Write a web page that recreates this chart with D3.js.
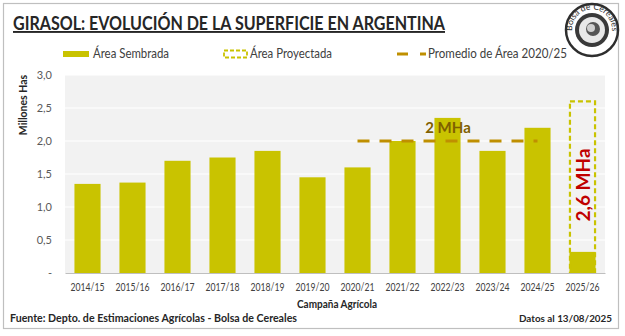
<!DOCTYPE html>
<html><head><meta charset="utf-8">
<script src="https://cdn.jsdelivr.net/npm/d3@7"></script>
<style>body{margin:0;background:#fff}svg{display:block}text{font-family:Lato,"Open Sans",sans-serif}</style>
</head><body><svg id="c" width="625" height="336"></svg>
<script>
const categories=["2014/15","2015/16","2016/17","2017/18","2018/19","2019/20","2020/21","2021/22","2022/23","2023/24","2024/25","2025/26"];
const sembrada=[1.35,1.37,1.70,1.75,1.85,1.45,1.60,2.00,2.35,1.85,2.20,0.32];
const proyectada=[null,null,null,null,null,null,null,null,null,null,null,2.6];
const promedio=2.0;
const promedioDesde="2020/21", promedioHasta="2024/25";
const yTicks=[0,0.5,1,1.5,2,2.5,3];
const yTickLabels=["-","0,5","1,0","1,5","2,0","2,5","3,0"];

const svg=d3.select("#c");
const L=65,R=605,T=75,B=273;
const x=d3.scaleBand().domain(categories).range([L,R]).paddingInner(0.42).paddingOuter(0.21);
const y=d3.scaleLinear().domain([0,3]).range([B,T]);
const barCol="#c9c300", avgCol="#bf8f00", txt="#262626";

// outer border
svg.append("rect").attr("x",3.5).attr("y",3.5).attr("width",615).attr("height",325).attr("fill","none").attr("stroke","#bfbfbf").attr("stroke-width",1.2);
// plot bg
svg.append("rect").attr("x",L).attr("y",T).attr("width",R-L).attr("height",B-T).attr("fill","#f2f2f2");
// grid
svg.append("g").selectAll("line").data(yTicks.slice(1)).join("line")
 .attr("x1",L).attr("x2",R).attr("y1",d=>y(d)).attr("y2",d=>y(d)).attr("stroke","#fff").attr("stroke-width",1.2);

// y axis
const ya=svg.append("g").attr("transform",`translate(${L},0)`).call(d3.axisLeft(y).tickValues(yTicks).tickFormat((d,i)=>yTickLabels[i]).tickSize(0).tickPadding(13));
ya.select(".domain").remove();
ya.selectAll("text").attr("font-size",11).attr("fill","#595959").attr("font-family","Lato");

// x axis
const xa=svg.append("g").attr("transform",`translate(0,${B})`).call(d3.axisBottom(x).tickSize(0).tickPadding(10));
xa.select(".domain").attr("stroke","#bfbfbf");
xa.selectAll("text").attr("font-size",11).attr("fill","#404040").attr("font-family","Lato")
  .attr("textLength",34).attr("lengthAdjust","spacingAndGlyphs");

// bars
svg.append("g").selectAll("rect").data(categories.map((c,i)=>({c,v:sembrada[i]}))).join("rect")
 .attr("x",d=>x(d.c)).attr("width",x.bandwidth()).attr("y",d=>y(d.v)).attr("height",d=>B-y(d.v)).attr("fill",barCol);

// projected
svg.append("g").selectAll("rect").data(categories.map((c,i)=>({c,v:proyectada[i]})).filter(d=>d.v!=null)).join("rect")
 .attr("x",d=>x(d.c)+0.5).attr("width",x.bandwidth()-1).attr("y",d=>y(d.v)).attr("height",d=>B-y(d.v)-1)
 .attr("fill","none").attr("stroke",barCol).attr("stroke-width",2.2).attr("stroke-dasharray","5,3");
categories.forEach((c,i)=>{ if(proyectada[i]!=null){
  const cx=x(c)+x.bandwidth()/2, cy=185;
  svg.append("text").attr("transform",`translate(${cx+7},${cy}) rotate(-90)`).attr("text-anchor","middle")
   .attr("font-size",19).attr("font-weight","bold").attr("fill","#c00000").text(String(proyectada[i]).replace(".",",")+" MHa");
}});

// average line
const x1=x(promedioDesde)+x.bandwidth()/2, x2=x(promedioHasta)+x.bandwidth()/2;
svg.append("line").attr("x1",x1).attr("x2",x2).attr("y1",y(promedio)).attr("y2",y(promedio))
 .attr("stroke",avgCol).attr("stroke-width",3).attr("stroke-dasharray","12,10");
svg.append("text").attr("x",448).attr("y",y(promedio)-8).attr("text-anchor","middle").attr("font-size",15).attr("font-weight","bold").attr("fill","#7f6000").text("2 MHa");

// title
svg.append("text").attr("x",13).attr("y",30).attr("font-size",19).attr("font-weight","bold").attr("fill",txt)
 .attr("text-decoration","underline").attr("textLength",432).attr("lengthAdjust","spacingAndGlyphs").text("GIRASOL: EVOLUCIÓN DE LA SUPERFICIE EN ARGENTINA");

// legend
const lg=svg.append("g");
lg.append("rect").attr("x",63).attr("y",51).attr("width",26).attr("height",6).attr("fill",barCol);
lg.append("text").attr("x",93).attr("y",58).attr("font-size",12.5).attr("fill","#404040").attr("textLength",76).attr("lengthAdjust","spacingAndGlyphs").text("Área Sembrada");
lg.append("rect").attr("x",224).attr("y",50.5).attr("width",23).attr("height",7).attr("fill","none").attr("stroke",barCol).attr("stroke-width",1.8).attr("stroke-dasharray","4,2");
lg.append("text").attr("x",250).attr("y",58).attr("font-size",12.5).attr("fill","#404040").attr("textLength",82).attr("lengthAdjust","spacingAndGlyphs").text("Área Proyectada");
lg.append("line").attr("x1",397).attr("x2",426).attr("y1",54).attr("y2",54).attr("stroke",avgCol).attr("stroke-width",3).attr("stroke-dasharray","11,12");
lg.append("text").attr("x",428).attr("y",58).attr("font-size",12.5).attr("fill","#404040").attr("textLength",139).attr("lengthAdjust","spacingAndGlyphs").text("Promedio de Área 2020/25");

// logo
const lo=svg.append("g").attr("transform","translate(592,30)");
lo.append("circle").attr("r",26).attr("fill","#fff").attr("stroke","#2e2e2e").attr("stroke-width",2.5);
lo.append("circle").attr("r",17).attr("fill","#3a3a3a");
lo.append("circle").attr("r",13).attr("fill","#e8e8e8");
lo.append("circle").attr("r",7).attr("cx",1).attr("cy",-1).attr("fill","#555");
lo.append("circle").attr("r",4).attr("cx",-1).attr("cy",-2).attr("fill","#cfcfcf");
lo.append("path").attr("id","arc").attr("d","M-17,10 A20,20 0 1,1 17,10").attr("fill","none");
lo.append("text").attr("font-size",8.5).attr("font-family","Liberation Serif").attr("fill","#2e2e2e").append("textPath").attr("href","#arc").attr("startOffset","50%").attr("text-anchor","middle").text("Bolsa de Cereales");

// axis titles
svg.append("text").attr("transform","translate(27,105) rotate(-90)").attr("text-anchor","middle").attr("font-size",10.5).attr("font-weight","bold").attr("fill",txt).text("Millones Has");
svg.append("text").attr("x",297).attr("y",308).attr("font-size",11).attr("font-weight","bold").attr("fill",txt).attr("textLength",80).attr("lengthAdjust","spacingAndGlyphs").text("Campaña Agrícola");
// footer
svg.append("text").attr("x",10).attr("y",322).attr("font-size",11.5).attr("font-weight","bold").attr("fill",txt).attr("textLength",287).attr("lengthAdjust","spacingAndGlyphs").text("Fuente: Depto. de Estimaciones Agrícolas - Bolsa de Cereales");
svg.append("text").attr("x",519).attr("y",322).attr("font-size",10).attr("font-weight","bold").attr("fill",txt).attr("textLength",93).attr("lengthAdjust","spacingAndGlyphs").text("Datos al 13/08/2025");
</script></body></html>
